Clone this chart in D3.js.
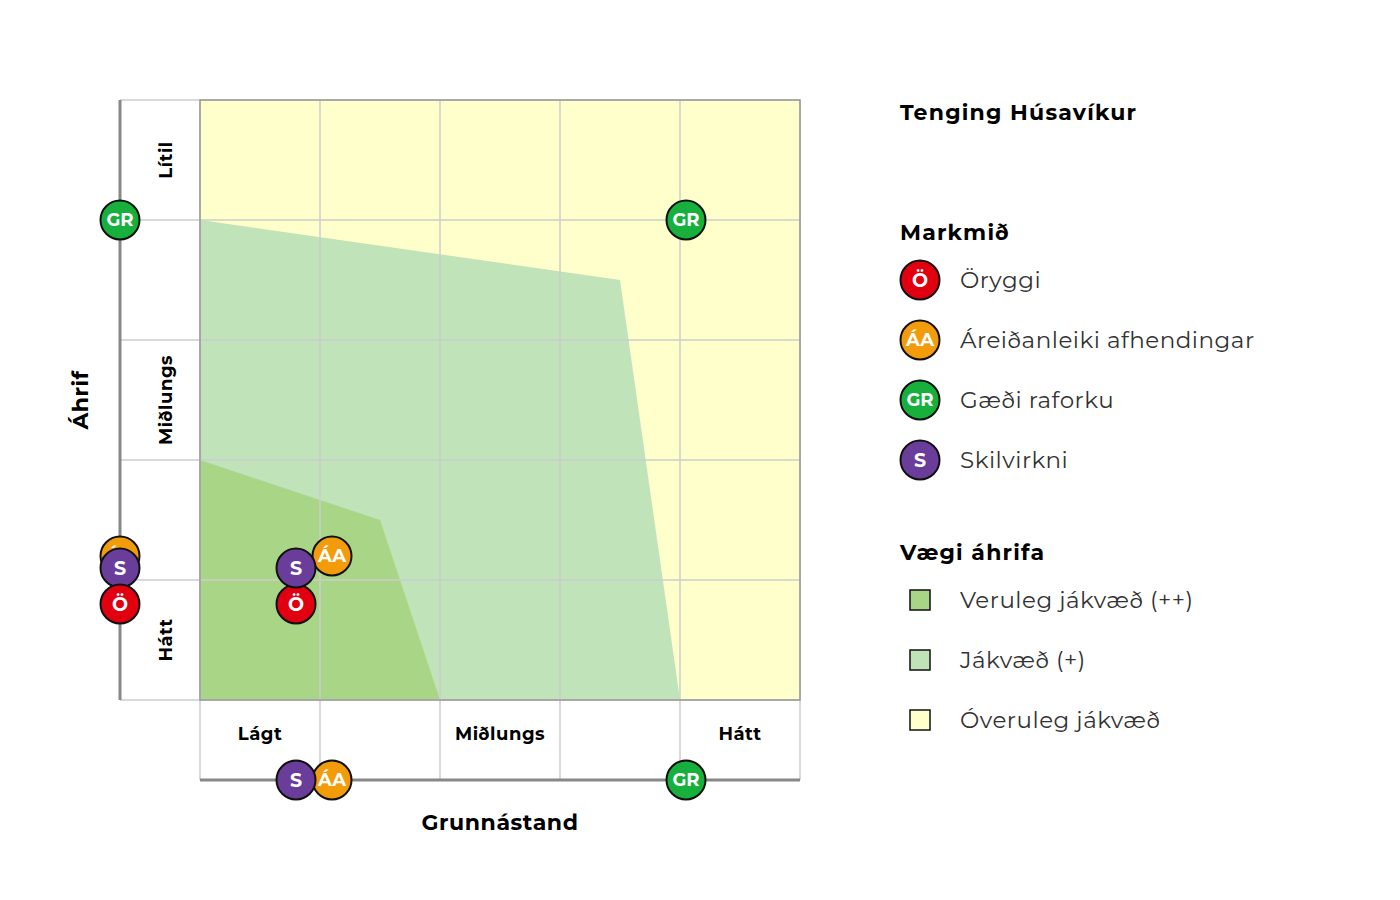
<!DOCTYPE html>
<html><head><meta charset="utf-8">
<script src="https://d3js.org/d3.v7.min.js"></script>
<style>body{margin:0;background:#fff;font-family:Montserrat,"Open Sans",sans-serif;}</style>
</head><body><div id="chart"></div>
<script>
// Grid is 5x5 cells; x = grunnástand, y = áhrif (0 bottom)
const rowLabels = [{label: 'Hátt', pos: 0.5}, {label: 'Miðlungs', pos: 2.5}, {label: 'Lítil', pos: 4.5}];
const colLabels = [{label: 'Lágt', pos: 0.5}, {label: 'Miðlungs', pos: 2.5}, {label: 'Hátt', pos: 4.5}];
const zoneLight = [[0, 4], [3.5, 3.5], [4, 0], [0, 0]];
const zoneDark = [[0, 2], [1.5, 1.5], [2, 0], [0, 0]];
const markers = [
  {code: 'GR', x: 4.05, y: 4},
  {code: 'ÁA', x: 1.1, y: 1.2},
  {code: 'Ö', x: 0.8, y: 0.8},
  {code: 'S', x: 0.8, y: 1.1}
];
const leftMarkers = [{code: 'GR', y: 4}, {code: 'ÁA', y: 1.2}, {code: 'S', y: 1.1}, {code: 'Ö', y: 0.8}];
const bottomMarkers = [{code: 'GR', x: 4.05}, {code: 'ÁA', x: 1.1}, {code: 'S', x: 0.8}];
const goals = [
  {code: 'Ö', name: 'Öryggi'},
  {code: 'ÁA', name: 'Áreiðanleiki afhendingar'},
  {code: 'GR', name: 'Gæði raforku'},
  {code: 'S', name: 'Skilvirkni'}
];
const weights = ['Veruleg jákvæð (++)', 'Jákvæð (+)', 'Óveruleg jákvæð'];

const codeColors = {'Ö': '#e0000f', 'ÁA': '#f39c0b', 'GR': '#17b03c', 'S': '#6b3d9a'};
const weightColors = ['#a8d586', '#c0e3b9', '#ffffcc'];

const svg = d3.select('#chart').append('svg').attr('width', 1400).attr('height', 900);
const x = d3.scaleLinear().domain([0, 5]).range([200, 800]);
const y = d3.scaleLinear().domain([0, 5]).range([700, 100]);

svg.append('rect').attr('x', x(0)).attr('y', y(5)).attr('width', x(5) - x(0)).attr('height', y(0) - y(5)).attr('fill', weightColors[2]);
const poly = d3.line().x(d => x(d[0])).y(d => y(d[1]));
svg.append('path').attr('d', poly(zoneLight) + 'Z').attr('fill', weightColors[1]);
svg.append('path').attr('d', poly(zoneDark) + 'Z').attr('fill', weightColors[0]);

// grid
d3.range(6).forEach(i => {
  svg.append('line').attr('x1', 120).attr('x2', x(5)).attr('y1', y(i)).attr('y2', y(i)).attr('stroke', '#ccc').attr('stroke-width', 1.5);
  svg.append('line').attr('x1', x(i)).attr('x2', x(i)).attr('y1', y(5)).attr('y2', 780).attr('stroke', '#ccc').attr('stroke-width', 1.5);
});
svg.append('rect').attr('x', x(0)).attr('y', y(5)).attr('width', 600).attr('height', 600).attr('fill', 'none').attr('stroke', '#999').attr('stroke-width', 1.5);
svg.append('line').attr('x1', 120).attr('x2', 120).attr('y1', y(5)).attr('y2', y(0)).attr('stroke', '#888').attr('stroke-width', 3);
svg.append('line').attr('x1', x(0)).attr('x2', x(5)).attr('y1', 780).attr('y2', 780).attr('stroke', '#888').attr('stroke-width', 3);

rowLabels.forEach(d => {
  svg.append('text').attr('transform', `translate(172,${y(d.pos)}) rotate(-90)`)
    .attr('text-anchor', 'middle').attr('font-size', 18).attr('font-weight', 700)
    .attr('letter-spacing', 0.5).text(d.label);
});
colLabels.forEach(d => {
  svg.append('text').attr('x', x(d.pos)).attr('y', 740).attr('text-anchor', 'middle')
    .attr('font-size', 18).attr('font-weight', 700).attr('letter-spacing', 0.5).text(d.label);
});
svg.append('text').attr('transform', 'translate(88,400) rotate(-90)').attr('text-anchor', 'middle')
  .attr('font-size', 22).attr('font-weight', 700).attr('letter-spacing', 0.5).text('Áhrif');
svg.append('text').attr('x', 500).attr('y', 830).attr('text-anchor', 'middle')
  .attr('font-size', 22).attr('font-weight', 700).attr('letter-spacing', 0.6).text('Grunnástand');

function marker(cx, cy, code) {
  const g = svg.append('g').attr('transform', `translate(${cx},${cy})`);
  g.append('circle').attr('r', 19.5).attr('fill', codeColors[code]).attr('stroke', '#111').attr('stroke-width', 2);
  g.append('text').attr('text-anchor', 'middle').attr('dy', '0.36em').attr('fill', '#fff')
    .attr('font-size', code.length > 1 ? 18 : 19).attr('font-weight', 700).text(code);
}
leftMarkers.forEach(d => marker(120, y(d.y), d.code));
bottomMarkers.forEach(d => marker(x(d.x), 780, d.code));
markers.forEach(d => marker(x(d.x), y(d.y), d.code));

// legend
const title = (t, ty) => svg.append('text').attr('x', 900).attr('y', ty).attr('font-size', 22)
  .attr('font-weight', 700).attr('letter-spacing', 1.2).text(t);
title('Tenging Húsavíkur', 120);
title('Markmið', 240);
goals.forEach((d, i) => {
  marker(920, 280 + i * 60, d.code);
  svg.append('text').attr('x', 960).attr('y', 280 + i * 60).attr('dy', '0.35em').attr('font-size', 23)
    .attr('letter-spacing', 0.5).attr('fill', '#333').text(d.name);
});
title('Vægi áhrifa', 560);
weights.forEach((w, i) => {
  svg.append('rect').attr('x', 910).attr('y', 590 + i * 60).attr('width', 20).attr('height', 20)
    .attr('fill', weightColors[i]).attr('stroke', '#111').attr('stroke-width', 1.5);
  svg.append('text').attr('x', 960).attr('y', 600 + i * 60).attr('dy', '0.35em').attr('font-size', 23)
    .attr('letter-spacing', 0.5).attr('fill', '#333').text(w);
});
</script></body></html>
